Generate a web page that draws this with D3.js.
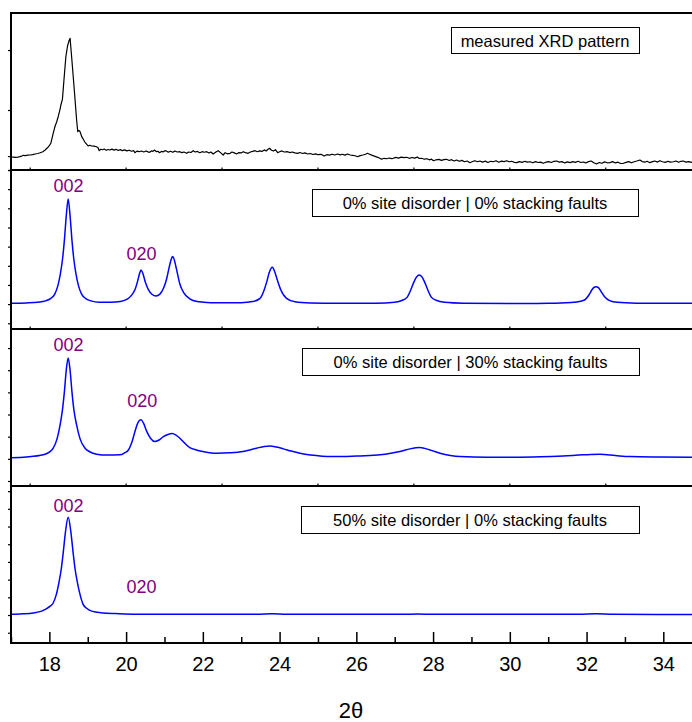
<!DOCTYPE html>
<html>
<head>
<meta charset="utf-8">
<script src="https://cdn.jsdelivr.net/npm/d3@7"></script>
<style>
body { margin:0; background:#fff; }
svg { display:block; font-family:"Liberation Sans", Arial, sans-serif; }
</style>
</head>
<body>
<svg id="SvgContainer"></svg>
<script>
// measured pattern: [2theta, counts]
var measured = [[16.92,225],[17.00,218],[17.06,214],[17.12,210],[17.18,216],[17.23,222],[17.28,232],[17.32,245],[17.37,240],[17.43,248],[17.50,250],[17.56,256],[17.63,267],[17.70,275],[17.76,288],[17.83,305],[17.89,333],[17.95,370],[18.00,405],[18.04,450],[18.07,530],[18.10,612],[18.15,733],[18.19,800],[18.23,888],[18.27,990],[18.30,1083],[18.34,1178],[18.38,1500],[18.43,1888],[18.47,2055],[18.51,2150],[18.54,2195],[18.58,1888],[18.65,1333],[18.71,833],[18.74,638],[18.77,660],[18.80,638],[18.84,560],[18.87,528],[18.92,470],[18.97,433],[19.01,400],[19.05,412],[19.10,400],[19.16,398],[19.23,388],[19.27,372],[19.30,322],[19.34,346],[19.39,338],[19.43,350],[19.48,330],[19.53,342],[19.58,333],[19.63,348],[19.69,332],[19.74,345],[19.79,326],[19.85,340],[19.90,322],[19.96,335],[20.02,318],[20.08,330],[20.14,312],[20.20,322],[20.23,288],[20.28,315],[20.34,305],[20.40,317],[20.46,300],[20.52,318],[20.57,302],[20.61,295],[20.66,318],[20.70,310],[20.74,333],[20.79,305],[20.83,312],[20.87,288],[20.92,310],[20.97,302],[21.01,322],[21.05,317],[21.10,296],[21.15,312],[21.22,295],[21.27,318],[21.33,300],[21.40,305],[21.45,290],[21.51,300],[21.58,278],[21.63,300],[21.69,292],[21.75,322],[21.80,300],[21.86,310],[21.92,288],[21.98,305],[22.04,296],[22.10,305],[22.16,284],[22.21,300],[22.27,267],[22.33,296],[22.40,322],[22.46,290],[22.53,250],[22.58,288],[22.64,270],[22.71,278],[22.76,300],[22.82,285],[22.88,267],[22.94,290],[23.00,285],[23.05,305],[23.11,290],[23.18,278],[23.24,300],[23.30,310],[23.36,322],[23.42,305],[23.48,318],[23.54,310],[23.60,335],[23.65,318],[23.70,345],[23.74,362],[23.79,330],[23.84,318],[23.89,338],[23.95,288],[24.00,305],[24.06,318],[24.12,300],[24.21,305],[24.27,290],[24.33,300],[24.40,285],[24.47,278],[24.53,292],[24.60,275],[24.66,285],[24.73,267],[24.80,275],[24.87,258],[24.94,268],[25.00,255],[25.08,262],[25.16,233],[25.23,255],[25.30,248],[25.37,262],[25.44,250],[25.51,267],[25.58,252],[25.64,262],[25.70,248],[25.77,267],[25.84,250],[25.90,245],[25.97,238],[26.03,222],[26.10,240],[26.17,250],[26.24,262],[26.29,278],[26.33,267],[26.40,248],[26.47,232],[26.54,215],[26.60,200],[26.66,178],[26.72,195],[26.79,188],[26.86,200],[26.92,190],[26.96,195],[27.03,210],[27.10,198],[27.17,215],[27.24,205],[27.31,212],[27.38,195],[27.45,208],[27.52,198],[27.59,215],[27.64,192],[27.70,195],[27.77,180],[27.84,188],[27.90,170],[27.96,180],[28.01,155],[28.08,170],[28.15,178],[28.22,160],[28.28,172],[28.35,178],[28.42,158],[28.48,172],[28.55,150],[28.61,167],[28.68,145],[28.75,160],[28.82,138],[28.89,150],[28.96,122],[29.03,142],[29.09,155],[29.16,138],[29.22,150],[29.29,132],[29.36,148],[29.43,125],[29.50,145],[29.57,138],[29.64,155],[29.71,130],[29.78,148],[29.85,140],[29.92,155],[29.98,138],[30.05,145],[30.12,128],[30.18,122],[30.25,140],[30.32,128],[30.39,145],[30.46,132],[30.53,138],[30.60,120],[30.67,140],[30.74,125],[30.80,132],[30.87,112],[30.94,130],[31.01,140],[31.08,125],[31.15,145],[31.22,150],[31.29,132],[31.36,140],[31.43,118],[31.50,135],[31.57,122],[31.64,140],[31.71,128],[31.78,145],[31.85,125],[31.91,133],[31.98,118],[32.05,140],[32.12,150],[32.19,122],[32.26,100],[32.33,125],[32.40,112],[32.47,135],[32.54,120],[32.61,122],[32.68,140],[32.75,118],[32.82,130],[32.89,108],[32.96,112],[33.03,128],[33.10,140],[33.17,120],[33.24,138],[33.31,150],[33.39,167],[33.45,140],[33.52,130],[33.58,145],[33.65,122],[33.72,140],[33.78,150],[33.85,132],[33.91,155],[33.98,138],[34.05,128],[34.12,145],[34.19,132],[34.26,138],[34.33,150],[34.40,128],[34.46,145],[34.52,150],[34.59,132],[34.66,140],[34.74,128],[34.80,135]];

// simulated: 0% site disorder, 0% stacking faults
var simIdeal = [[17.00,1.04],[17.40,1.06],[17.70,1.10],[17.90,1.17],[18.04,1.30],[18.14,1.52],[18.22,1.95],[18.29,2.62],[18.34,3.30],[18.39,4.30],[18.44,5.60],[18.49,6.49],[18.54,5.60],[18.59,4.30],[18.64,3.30],[18.69,2.62],[18.76,1.95],[18.84,1.52],[18.94,1.30],[19.08,1.17],[19.30,1.10],[19.60,1.10],[19.85,1.14],[20.04,1.27],[20.15,1.48],[20.24,1.80],[20.30,2.20],[20.35,2.60],[20.39,2.78],[20.44,2.58],[20.50,2.15],[20.58,1.76],[20.68,1.50],[20.78,1.42],[20.88,1.52],[20.98,1.85],[21.06,2.35],[21.12,2.90],[21.17,3.30],[21.21,3.48],[21.26,3.28],[21.31,2.85],[21.40,2.05],[21.50,1.60],[21.66,1.27],[21.85,1.13],[22.20,1.07],[23.00,1.07],[23.30,1.13],[23.49,1.30],[23.60,1.75],[23.67,2.20],[23.73,2.65],[23.81,2.92],[23.88,2.65],[23.95,2.20],[24.03,1.75],[24.18,1.30],[24.40,1.12],[24.80,1.06],[25.50,1.04],[26.50,1.05],[27.00,1.10],[27.20,1.20],[27.32,1.35],[27.42,1.75],[27.50,2.15],[27.57,2.42],[27.64,2.52],[27.71,2.42],[27.78,2.15],[27.86,1.75],[27.96,1.35],[28.08,1.20],[28.30,1.10],[28.80,1.05],[30.00,1.03],[31.00,1.04],[31.60,1.08],[31.85,1.15],[31.97,1.25],[32.07,1.50],[32.14,1.75],[32.20,1.88],[32.25,1.91],[32.31,1.86],[32.38,1.65],[32.47,1.38],[32.60,1.18],[32.80,1.09],[33.30,1.05],[34.00,1.04],[34.80,1.04]];

// simulated: 0% site disorder, 30% stacking faults
var simFaults = [[17.00,1.05],[17.40,1.08],[17.84,1.18],[18.00,1.30],[18.10,1.48],[18.20,1.90],[18.28,2.53],[18.34,3.20],[18.39,4.00],[18.44,5.00],[18.49,5.55],[18.54,5.00],[18.59,4.00],[18.64,3.20],[18.71,2.53],[18.80,1.90],[18.93,1.48],[19.05,1.32],[19.23,1.21],[19.50,1.17],[19.84,1.18],[19.96,1.27],[20.06,1.40],[20.15,1.75],[20.23,2.23],[20.30,2.60],[20.35,2.74],[20.39,2.76],[20.45,2.62],[20.54,2.23],[20.64,1.92],[20.75,1.78],[20.86,1.85],[20.97,2.00],[21.09,2.10],[21.20,2.14],[21.30,2.07],[21.40,1.93],[21.52,1.72],[21.66,1.51],[21.83,1.40],[22.01,1.33],[22.36,1.25],[22.70,1.27],[23.05,1.33],[23.40,1.48],[23.60,1.56],[23.75,1.58],[23.92,1.53],[24.10,1.45],[24.30,1.35],[24.53,1.25],[24.80,1.17],[25.05,1.13],[25.31,1.10],[25.57,1.10],[26.10,1.13],[26.62,1.18],[26.90,1.25],[27.14,1.33],[27.40,1.45],[27.66,1.51],[27.92,1.40],[28.18,1.25],[28.45,1.15],[28.70,1.10],[29.40,1.07],[30.09,1.07],[30.80,1.09],[31.39,1.13],[31.90,1.18],[32.35,1.21],[32.75,1.15],[33.13,1.10],[33.90,1.08],[34.80,1.07]];

// simulated: 50% site disorder, 0% stacking faults
var simDisorder = [[17.00,1.04],[17.30,1.07],[17.58,1.12],[17.80,1.22],[17.93,1.36],[18.02,1.50],[18.10,1.68],[18.18,2.15],[18.25,2.85],[18.31,3.60],[18.36,4.50],[18.42,5.70],[18.49,6.52],[18.56,5.70],[18.62,4.50],[18.67,3.60],[18.73,2.85],[18.80,2.15],[18.88,1.60],[18.97,1.38],[19.10,1.22],[19.40,1.12],[19.70,1.08],[20.20,1.05],[21.20,1.05],[22.50,1.04],[23.40,1.04],[23.80,1.07],[24.20,1.04],[27.20,1.04],[27.60,1.06],[28.00,1.04],[31.80,1.04],[32.25,1.07],[32.70,1.04],[34.80,1.03]];

var boxLabels = ["measured XRD pattern",
    "0% site disorder | 0% stacking faults",
    "0% site disorder | 30% stacking faults",
    "50% site disorder | 0% stacking faults"];

// peak labels per simulated panel: [text, 2theta, intensity]
var peakLabels2 = [["002",18.50,6.87],["020",20.40,3.30]];
var peakLabels3 = [["002",18.50,5.85],["020",20.42,3.32]];
var peakLabels4 = [["002",18.50,6.84],["020",20.40,2.23]];

var xMajorTicks = [18,20,22,24,26,28,30,32,34];
var xMinorTicks = [17,19,21,23,25,27,29,31,33];
var xInnerTicks = [17.5,20,22.5,25,27.5,30,32.5];

var yTicks1 = [0,1000,2000];
var yTicks2 = [0,1,2,3,4,5,6,7,8];
var yTicks3 = [0,1,2,3,4,5,6];
var yTicks4 = [0,1,2,3,4,5,6,7,8];

function Draw() {
    var width = 692;
    var height = 722;
    var left = 11;
    var right = 694;

    var svg = d3.select("svg")
        .attr("width", width)
        .attr("height", height);

    var x = d3.scaleLinear().domain([17, 34.8]).range([left, right]);

    var panels = [
        {top:13, bottom:170, domain:[0,2617], ticks:yTicks1, data:measured, color:"#000", lw:1.2, curve:d3.curveLinear, labels:[],
            box:[451,639,27,53], text:boxLabels[0]},
        {top:170, bottom:329, domain:[-0.3,8.0], ticks:yTicks2, data:simIdeal, color:"#0000ff", lw:1.5, curve:d3.curveMonotoneX, labels:peakLabels2,
            box:[312,638,189,216], text:boxLabels[1]},
        {top:329, bottom:486, domain:[-0.226,6.86], ticks:yTicks3, data:simFaults, color:"#0000ff", lw:1.5, curve:d3.curveMonotoneX, labels:peakLabels3,
            box:[302,639,348,375], text:boxLabels[2]},
        {top:486, bottom:643, domain:[-0.58,8.29], ticks:yTicks4, data:simDisorder, color:"#0000ff", lw:1.5, curve:d3.curveMonotoneX, labels:peakLabels4,
            box:[301,639,506,533], text:boxLabels[3]}
    ];

    panels.forEach(function (p, idx) {
        var y = d3.scaleLinear().domain(p.domain).range([p.bottom, p.top]);
        var g = svg.append("g").attr("class", "Panel");

        // left ticks (outside)
        g.append("g")
            .attr("transform", "translate(" + left + ",0)")
            .call(d3.axisLeft(y).tickValues(p.ticks).tickSize(3).tickFormat(""))
            .call(function (a) { a.select(".domain").remove(); })
            .selectAll("line").attr("stroke", "#000").attr("stroke-width", 1.2);

        // small inner ticks on the panel bottom edge
        if (idx < 3) {
            g.selectAll(".InnerTick")
                .data(xInnerTicks)
                .enter()
                .append("line")
                .attr("x1", function (d) { return x(d); })
                .attr("x2", function (d) { return x(d); })
                .attr("y1", p.bottom - 2.5)
                .attr("y2", p.bottom)
                .attr("stroke", "#000")
                .attr("stroke-width", 1.2);
        }

        var line = d3.line()
            .x(function (d) { return x(d[0]); })
            .y(function (d) { return y(d[1]); })
            .curve(p.curve);

        g.append("path")
            .datum(p.data)
            .attr("d", line)
            .attr("fill", "none")
            .attr("stroke", p.color)
            .attr("stroke-width", p.lw)
            .attr("stroke-linejoin", "round");

        g.selectAll(".PeakText")
            .data(p.labels)
            .enter()
            .append("text")
            .attr("x", function (d) { return x(d[1]); })
            .attr("y", function (d) { return y(d[2]); })
            .attr("text-anchor", "middle")
            .attr("font-size", "18px")
            .attr("fill", "#800080")
            .text(function (d) { return d[0]; });

        var b = p.box;
        g.append("rect")
            .attr("x", b[0] + 0.5)
            .attr("y", b[2] + 0.5)
            .attr("width", b[1] - b[0])
            .attr("height", b[3] - b[2])
            .attr("fill", "#fff")
            .attr("stroke", "#000")
            .attr("stroke-width", 1);

        g.append("text")
            .attr("x", (b[0] + b[1]) / 2)
            .attr("y", b[2] + 19.5)
            .attr("text-anchor", "middle")
            .attr("font-size", "16.5px")
            .attr("fill", "#000")
            .text(p.text);
    });

    // frame lines
    var hLines = [13, 170, 329, 486, 643];
    svg.selectAll(".HLine")
        .data(hLines)
        .enter()
        .append("line")
        .attr("x1", left)
        .attr("x2", right)
        .attr("y1", function (d) { return d; })
        .attr("y2", function (d) { return d; })
        .attr("stroke", "#000")
        .attr("stroke-width", 2);

    svg.append("line")
        .attr("x1", left).attr("x2", left)
        .attr("y1", 12).attr("y2", 644)
        .attr("stroke", "#000")
        .attr("stroke-width", 2);

    // bottom axis: major ticks with labels, minor ticks
    var axisG = svg.append("g")
        .attr("transform", "translate(0,643)")
        .call(d3.axisBottom(x).tickValues(xMajorTicks).tickSizeInner(-11).tickSizeOuter(0).tickPadding(14).tickFormat(d3.format("d")));
    axisG.select(".domain").remove();
    axisG.selectAll("line").attr("stroke", "#000").attr("stroke-width", 1.5);
    axisG.selectAll("text")
        .attr("font-size", "20px")
        .attr("font-family", "Liberation Sans, Arial, sans-serif")
        .attr("fill", "#000");

    var minorG = svg.append("g")
        .attr("transform", "translate(0,643)")
        .call(d3.axisBottom(x).tickValues(xMinorTicks).tickSizeInner(-6).tickSizeOuter(0).tickFormat(""));
    minorG.select(".domain").remove();
    minorG.selectAll("line").attr("stroke", "#000").attr("stroke-width", 1.5);

    svg.append("text")
        .attr("x", 351)
        .attr("y", 718)
        .attr("text-anchor", "middle")
        .attr("font-size", "22px")
        .attr("fill", "#000")
        .text("2\u03B8");
}

Draw();
</script>
</body>
</html>
